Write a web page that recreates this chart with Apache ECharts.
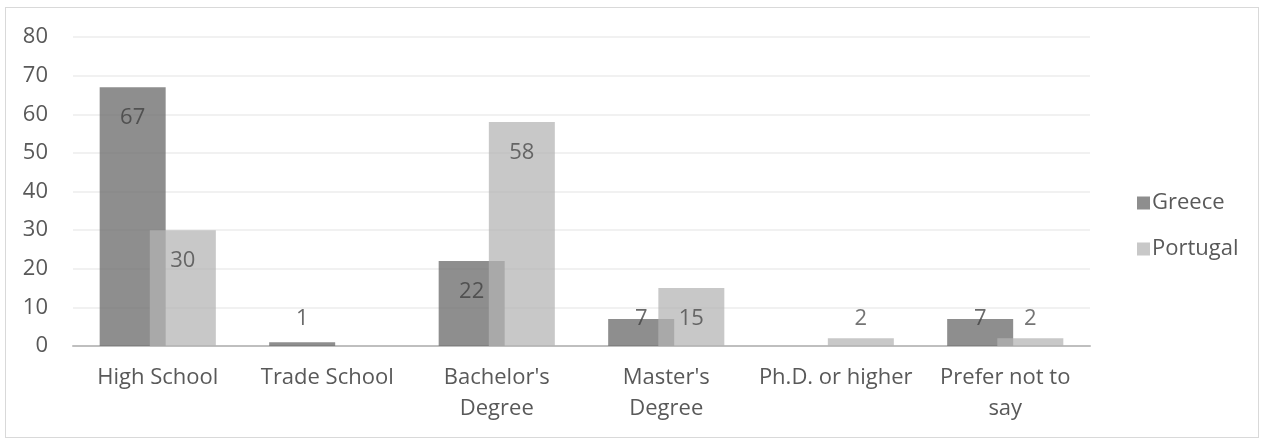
<!DOCTYPE html>
<html>
<head>
<meta charset="utf-8">
<script src="https://cdn.jsdelivr.net/npm/echarts@6/dist/echarts.min.js"></script>
<style>
  html, body { margin: 0; padding: 0; background: #fff; }
  #frame { position: absolute; left: 5px; top: 7px; width: 1252px; height: 429px; border: 1px solid #d9d9d9; }
  #main { position: absolute; left: 0; top: 0; width: 1263px; height: 439px; }
</style>
</head>
<body>
<div id="frame"></div>
<div id="main"></div>
<script>
// categories (line breaks as wrapped in the original)
var categories = ['High School', 'Trade School', "Bachelor's\nDegree", "Master's\nDegree", 'Ph.D. or higher', 'Prefer not to\nsay'];
var greece = [67, 1, 22, 7, 0, 7];
var portugal = [30, 0, 58, 15, 2, 2];
var yTicks = [0, 10, 20, 30, 40, 50, 60, 70, 80];

var FONT = 'Open Sans';
var FS = 22;

// label inside end for tall bars, otherwise sits above the base
function toData(arr) {
  return arr.map(function (v) {
    var tall = v >= 15;
    return {
      value: v,
      label: {
        show: v > 0,
        position: tall ? 'insideTop' : 'insideBottom',
        distance: tall ? 20 : 16
      }
    };
  });
}

var chart = echarts.init(document.getElementById('main'), null, { renderer: 'canvas' });

var option = {
  animation: false,
  textStyle: { fontFamily: FONT },
  grid: {
    left: 73,
    right: 173,
    top: 37,
    bottom: 93
  },
  legend: {
    orient: 'vertical',
    left: 1132,
    top: 187,
    itemWidth: 13,
    itemHeight: 13,
    itemGap: 24,
    icon: 'rect',
    textStyle: { fontFamily: FONT, fontSize: FS, color: '#595959', padding: [0, 0, 0, -3] },
    data: ['Greece', 'Portugal']
  },
  xAxis: {
    type: 'category',
    data: categories,
    axisTick: { show: false },
    axisLine: { lineStyle: { color: '#bfbfbf', width: 2 } },
    axisLabel: {
      interval: 0,
      margin: 16,
      fontFamily: FONT,
      fontSize: FS,
      lineHeight: 31,
      color: '#595959'
    }
  },
  yAxis: {
    type: 'value',
    min: yTicks[0],
    max: yTicks[yTicks.length - 1],
    interval: 10,
    axisLine: { show: false },
    axisTick: { show: false },
    splitLine: { lineStyle: { color: '#ececec', width: 1.5 } },
    axisLabel: {
      margin: 25,
      fontFamily: FONT,
      fontSize: FS,
      color: '#595959'
    }
  },
  series: [
    {
      name: 'Greece',
      type: 'bar',
      barWidth: 66,
      barGap: '-24%',
      data: toData(greece),
      itemStyle: { color: '#6e6e6e', opacity: 0.78 },
      label: { color: '#404040', fontFamily: FONT, fontSize: FS }
    },
    {
      name: 'Portugal',
      type: 'bar',
      barWidth: 66,
      barGap: '-24%',
      data: toData(portugal),
      itemStyle: { color: '#b4b4b4', opacity: 0.73 },
      label: { color: '#404040', fontFamily: FONT, fontSize: FS }
    }
  ]
};

chart.setOption(option);
</script>
</body>
</html>
